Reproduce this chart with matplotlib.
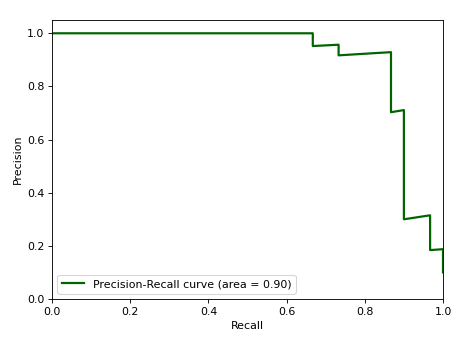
import matplotlib
matplotlib.use("Agg")
import matplotlib.pyplot as plt

# Puntos de la curva precision-recall
recall = [0.0, 0.667, 0.667, 0.733, 0.733, 0.867, 0.867, 0.900, 0.900,
          0.967, 0.967, 1.000, 1.000]
precision = [1.000, 1.000, 0.952, 0.957, 0.917, 0.929, 0.703, 0.711, 0.300,
             0.315, 0.184, 0.1875, 0.100]
area = 0.90

DPI = 79
fig = plt.figure(figsize=(453 / DPI, 339 / DPI), dpi=DPI)
ax = fig.add_axes([52 / 453, 1 - 299 / 339, (443 - 52) / 453, (299 - 20) / 339])

ax.plot(recall, precision, color="darkgreen", lw=2,
        label=f"Precision-Recall curve (area = {area:.2f})")
ax.set_xlim(0.0, 1.0)
ax.set_ylim(0.0, 1.05)
ax.set_xlabel("Recall")
ax.set_ylabel("Precision")
ax.legend(loc="lower left")

fig.savefig("out.png", dpi=DPI)
